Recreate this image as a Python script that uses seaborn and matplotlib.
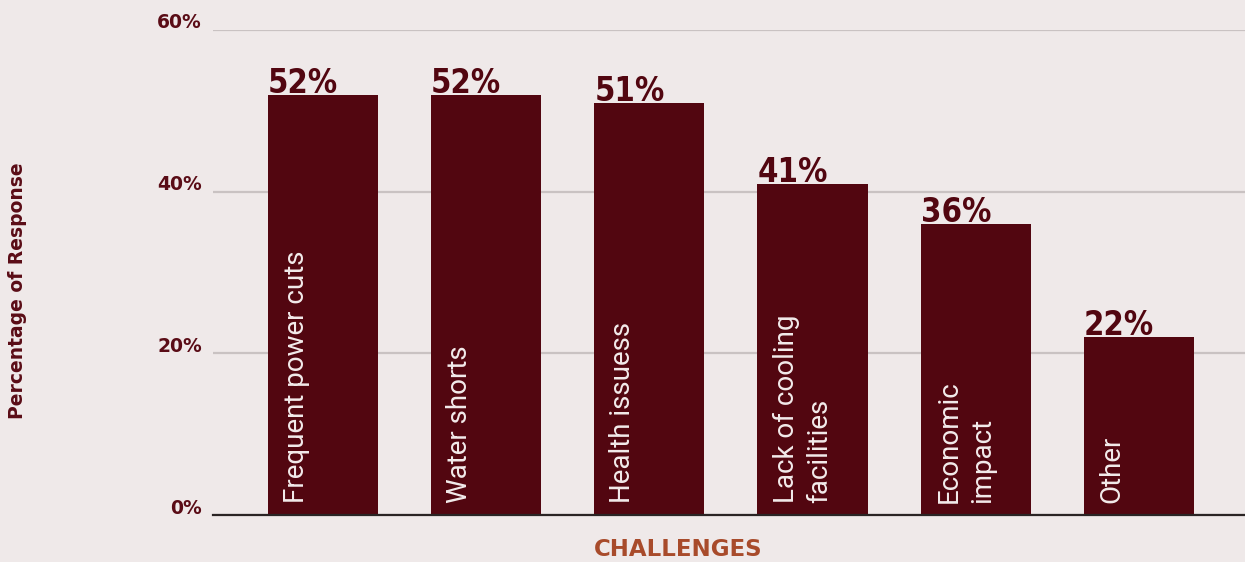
import matplotlib
matplotlib.use("Agg")
import matplotlib.pyplot as plt
from matplotlib.transforms import ScaledTranslation
import seaborn as sns
import pandas as pd

# Survey results: share of respondents naming each challenge
challenges = ["Frequent power cuts", "Water shorts", "Health issuess",
              "Lack of cooling\nfacilities", "Economic\nimpact", "Other"]
responses = [52, 52, 51, 41, 36, 22]
y_ticks = [0, 20, 40, 60]
y_tick_labels = ["0%", "20%", "40%", "60%"]

BG = "#efe9e9"
BAR = "#520610"
INK = "#5a0c16"
ACCENT = "#a84b2b"
GRID = "#c9c2c2"

sns.set_theme(style="white")
plt.rcParams["font.family"] = ["DejaVu Sans"]

df = pd.DataFrame({"challenge": challenges, "response": responses})

fig = plt.figure(figsize=(12.45, 5.62), dpi=100, facecolor=BG)
ax = fig.add_axes([213 / 1245, 47 / 562, 1032 / 1245, 485 / 562])
ax.set_facecolor(BG)

bar_w = 0.675
sns.barplot(data=df, x="challenge", y="response", color=BAR, width=bar_w,
            saturation=1, linewidth=0, edgecolor=BAR, ax=ax, zorder=2)

ax.set_xlim(-0.674, 5.65)
ax.set_ylim(0, 60)
ax.set_yticks(y_ticks)
ax.set_yticklabels(y_tick_labels)
ax.set_xticks([])
ax.yaxis.grid(True, color=GRID, lw=1.6, zorder=0)
ax.set_axisbelow(True)
for side in ["top", "right", "left"]:
    ax.spines[side].set_visible(False)
ax.spines["bottom"].set_color("#2a2424")
ax.spines["bottom"].set_linewidth(1.6)
ax.spines["bottom"].set_zorder(3)

ax.tick_params(axis="y", length=0, pad=8, labelsize=13.5, labelcolor=INK)
shift = ScaledTranslation(0, 0.09, fig.dpi_scale_trans)
for lab in ax.get_yticklabels():
    lab.set_fontweight("bold")
    lab.set_transform(lab.get_transform() + shift)

# Value labels sit on top of each bar, tucked slightly behind it
for i, v in enumerate(responses):
    left = i - bar_w / 2
    ax.annotate(f"{v}%", xy=(left, v), xytext=(0, 20), textcoords="offset points",
                ha="left", va="top", fontsize=23.5, fontweight="bold", color=BAR,
                family="DejaVu Sans", fontstretch="condensed", zorder=1)
    ax.text(left + 0.092, 1.5, challenges[i], rotation=90, ha="left", va="bottom",
            multialignment="left", fontsize=20, color="#f3ebeb",
            family=["Roboto", "DejaVu Sans"], fontweight="normal",
            linespacing=1.3, zorder=4)

ax.set_xlabel("CHALLENGES", fontsize=16.5, fontweight="bold", color=ACCENT, va="center")
ax.xaxis.set_label_coords((678 - 213) / 1032, (515 - 549) / 485)
ax.set_ylabel("Percentage of Response", fontsize=13.5, fontweight="bold", color=INK,
              va="center")
ax.yaxis.set_label_coords((18 - 213) / 1032, (515 - 291) / 485)

fig.savefig("out.png", dpi=100, facecolor=BG)
